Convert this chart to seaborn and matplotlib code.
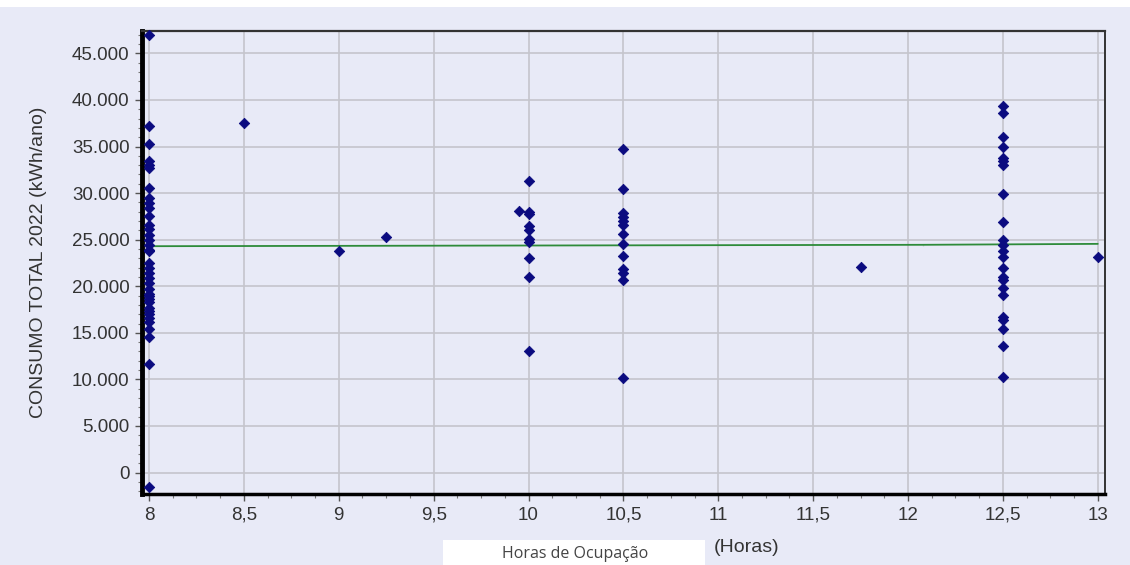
import matplotlib
matplotlib.use("Agg")
import matplotlib.pyplot as plt
import matplotlib.ticker as mticker
from matplotlib.patches import Rectangle
import seaborn as sns
import pandas as pd

# ---- data ----
h8 = [47000, 37200, 35300, 33400, 33000, 32700, 30600, 29500, 28900, 28400,
      27500, 26600, 26100, 25500, 25000, 24400, 23900, 23800, 22500, 22000,
      21400, 20900, 20400, 19700, 19200, 19000, 18600, 18300, 17700, 17300,
      17000, 16600, 16200, 15400, 14600, 11700, -1500]
h8_5 = [37500]
h9 = [23800]
h9_25 = [25300]
h9_95 = [28100]
h10 = [31300, 28000, 27800, 26500, 26000, 25100, 24700, 23000, 21000, 13100]
h10_5 = [34700, 30400, 27900, 27400, 27000, 26600, 25600, 24500, 23300,
         21900, 21400, 20700, 10100]
h11_75 = [22100]
h12_5 = [39400, 38600, 36000, 34900, 33800, 33400, 33000, 29900, 26900, 25000,
         24400, 23800, 23100, 22000, 21000, 20700, 19800, 19100, 16700, 16400,
         15400, 13600, 10300]
h13 = [23100]

groups = {8.0: h8, 8.5: h8_5, 9.0: h9, 9.25: h9_25, 9.95: h9_95, 10.0: h10,
          10.5: h10_5, 11.75: h11_75, 12.5: h12_5, 13.0: h13}

trend_x = [8.0, 12.08, 12.08, 13.0]
trend_y = [24300, 24350, 24550, 24550]

x_ticks = [8, 8.5, 9, 9.5, 10, 10.5, 11, 11.5, 12, 12.5, 13]
y_ticks = [0, 5000, 10000, 15000, 20000, 25000, 30000, 35000, 40000, 45000]

rows = [(h, v) for h, vals in groups.items() for v in vals]
df = pd.DataFrame(rows, columns=["horas", "consumo"])
trend = pd.DataFrame({"horas": trend_x, "consumo": trend_y})

sns.set_theme(style="white")
plt.rcParams["font.family"] = ["Liberation Sans", "DejaVu Sans"]

BG = "#E8EAF7"
fig = plt.figure(figsize=(11.3, 5.65), dpi=100, facecolor=BG)
ax = fig.add_axes([142 / 1130, 1 - 494 / 565, (1105 - 142) / 1130, (494 - 31) / 565])
ax.set_facecolor(BG)

ax.set_xlim(7.963, 13.038)
ax.set_ylim(-2300, 47400)
ax.set_xticks(x_ticks)
ax.set_yticks(y_ticks)
ax.xaxis.set_minor_locator(mticker.MultipleLocator(0.125))
ax.yaxis.set_minor_locator(mticker.MultipleLocator(1000))
ax.xaxis.set_major_formatter(mticker.FuncFormatter(
    lambda v, p: (f"{v:g}").replace(".", ",")))
ax.yaxis.set_major_formatter(mticker.FuncFormatter(
    lambda v, p: f"{int(v):,}".replace(",", ".")))

ax.grid(True, which="major", color="#C4C4CC", linewidth=1.2)
ax.set_axisbelow(True)

sns.lineplot(data=trend, x="horas", y="consumo", ax=ax, color="#2E8B3A",
             linewidth=1.3, zorder=3)
sns.scatterplot(data=df, x="horas", y="consumo", ax=ax, marker="D", s=28,
                color="#0B0B80", edgecolor="#0B0B80", linewidth=0.6, zorder=4,
                clip_on=False)

for side, lw, col in [("left", 3.5, "black"), ("bottom", 2.5, "black"),
                      ("top", 1.6, "#333333"), ("right", 1.4, "#333333")]:
    ax.spines[side].set_visible(True)
    ax.spines[side].set_linewidth(lw)
    ax.spines[side].set_color(col)

ax.tick_params(axis="both", which="major", direction="out", length=5, width=1,
               color="#555555", labelsize=13.5, labelcolor="#333333", pad=4)
ax.tick_params(axis="both", which="minor", direction="out", length=3, width=0.8,
               color="#777777")
ax.tick_params(axis="y", which="both", left=True)
ax.tick_params(axis="x", which="both", bottom=True)

ax.set_ylabel("CONSUMO TOTAL 2022 (kWh/ano)", fontsize=14, color="#333333",
              labelpad=18)
ax.set_xlabel("")

# x-axis unit label
fig.text(747 / 1130, 1 - 547 / 565, "(Horas)", fontsize=14, color="#333333",
         ha="center", va="center")

# white overlay box at the bottom with caption
fig.add_artist(Rectangle((443 / 1130, 0), (705 - 443) / 1130, 25 / 565,
                         transform=fig.transFigure, facecolor="white",
                         edgecolor="none", zorder=5))
fig.text(575 / 1130, 1 - 554 / 565, "Horas de Ocupação", fontsize=11.5,
         color="#444444", ha="center", va="center", zorder=6,
         family=["Open Sans", "DejaVu Sans"])

# white strip at the top (cropped title area)
fig.add_artist(Rectangle((0, 1 - 7 / 565), 1, 7 / 565, transform=fig.transFigure,
                         facecolor="white", edgecolor="none", zorder=5))

fig.savefig("out.png", dpi=100, facecolor=BG)
